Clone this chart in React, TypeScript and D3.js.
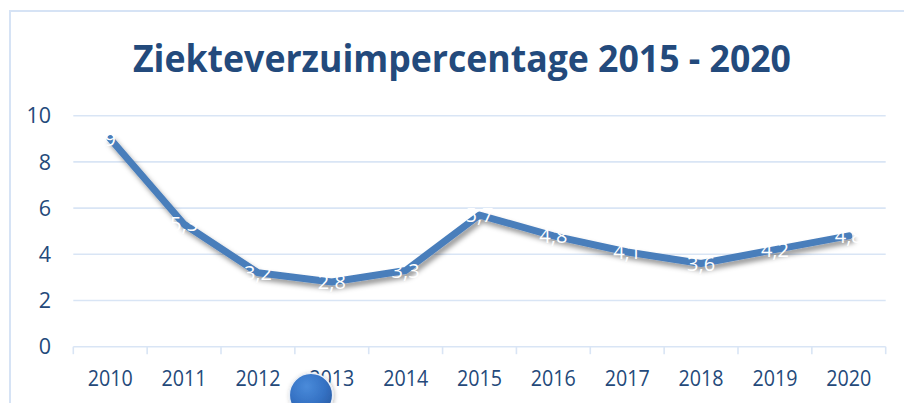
import React from "react";
import * as d3 from "d3";

const years = ["2010", "2011", "2012", "2013", "2014", "2015", "2016", "2017", "2018", "2019", "2020"];
const values = [9, 5.3, 3.2, 2.8, 3.3, 5.7, 4.8, 4.1, 3.6, 4.2, 4.8];
const yTicks = [0, 2, 4, 6, 8, 10];
const title = "Ziekteverzuimpercentage 2015 - 2020";

const W = 904;
const H = 403;
const left = 73.3;
const right = 885.7;
const top = 115.7;
const bottom = 346.7;

const FONT = "'Open Sans', 'Noto Sans', sans-serif";
const TEXT_COLOR = "#24497A";
const GRID = "#D9E5F5";

export default function App() {
  const x = d3.scaleBand<string>().domain(years).range([left, right]).padding(0);
  const y = d3.scaleLinear().domain([0, 10]).range([bottom, top]);
  const cx = (c: string) => (x(c) as number) + x.bandwidth() / 2;
  const line = d3
    .line<number>()
    .x((_, i) => cx(years[i]))
    .y((v) => y(v));
  const bounds = years.map((c) => x(c) as number).concat([right]);

  return (
    <svg
      width={W}
      height={H}
      style={{ position: "absolute", left: 0, top: 0, background: "#fff" }}
    >
      <defs>
        <filter id="shadow" x="-10%" y="-20%" width="120%" height="160%">
          <feDropShadow dx="2.5" dy="4" stdDeviation="2.5" floodColor="#000" floodOpacity="0.4" />
        </filter>
        <radialGradient id="ball" cx="40%" cy="30%" r="70%">
          <stop offset="0%" stopColor="#4A8BDA" />
          <stop offset="60%" stopColor="#3572C4" />
          <stop offset="100%" stopColor="#2A5EA8" />
        </radialGradient>
        <filter id="glow" x="-30%" y="-30%" width="160%" height="160%">
          <feDropShadow dx="1" dy="1" stdDeviation="2" floodColor="#000" floodOpacity="0.25" />
        </filter>
      </defs>

      {/* frame */}
      <rect x={10} y={11} width={W + 20} height={H + 20} fill="none" stroke="#D6E3F5" strokeWidth={2} />

      {/* title */}
      <text
        x={462}
        y={72}
        textAnchor="middle"
        fontFamily={FONT}
        fontWeight={700}
        fontSize={37.5}
        fill="#234A7C"
        textLength={658}
        lengthAdjust="spacingAndGlyphs"
      >
        {title}
      </text>

      {/* gridlines */}
      {yTicks.map((t) => (
        <line key={t} x1={left} x2={right} y1={y(t)} y2={y(t)} stroke={GRID} strokeWidth={1.6} />
      ))}
      {/* category ticks */}
      {bounds.map((b, i) => (
        <line key={i} x1={b} x2={b} y1={bottom} y2={bottom + 7.5} stroke={GRID} strokeWidth={1.6} />
      ))}

      {/* y labels */}
      {yTicks.map((t) => (
        <text
          key={t}
          x={51}
          y={y(t)}
          dy="0.36em"
          textAnchor="end"
          fontFamily={FONT}
          fontSize={21.5}
          fill={TEXT_COLOR}
        >
          {t}
        </text>
      ))}

      {/* x labels */}
      {years.map((c) => (
        <text
          key={c}
          x={cx(c)}
          y={385.5}
          textAnchor="middle"
          fontFamily={FONT}
          fontSize={21.5}
          fill={TEXT_COLOR}
          textLength={45}
          lengthAdjust="spacingAndGlyphs"
        >
          {c}
        </text>
      ))}

      {/* line */}
      <path
        d={line(values) || ""}
        fill="none"
        stroke="#4A7EBB"
        strokeWidth={7}
        strokeLinejoin="round"
        strokeLinecap="round"
        filter="url(#shadow)"
      />

      {/* data labels */}
      {values.map((v, i) => (
        <text
          key={i}
          x={cx(years[i])}
          y={y(v)}
          dy="0.36em"
          textAnchor="middle"
          fontFamily={FONT}
          fontSize={20}
          fill="#FFFFFF"
        >
          {String(v).replace(".", ",")}
        </text>
      ))}

      {/* blue ball */}
      <circle cx={311} cy={395} r={21.7} fill="url(#ball)" stroke="#E8EEF6" strokeWidth={1.5} filter="url(#glow)" />
    </svg>
  );
}
